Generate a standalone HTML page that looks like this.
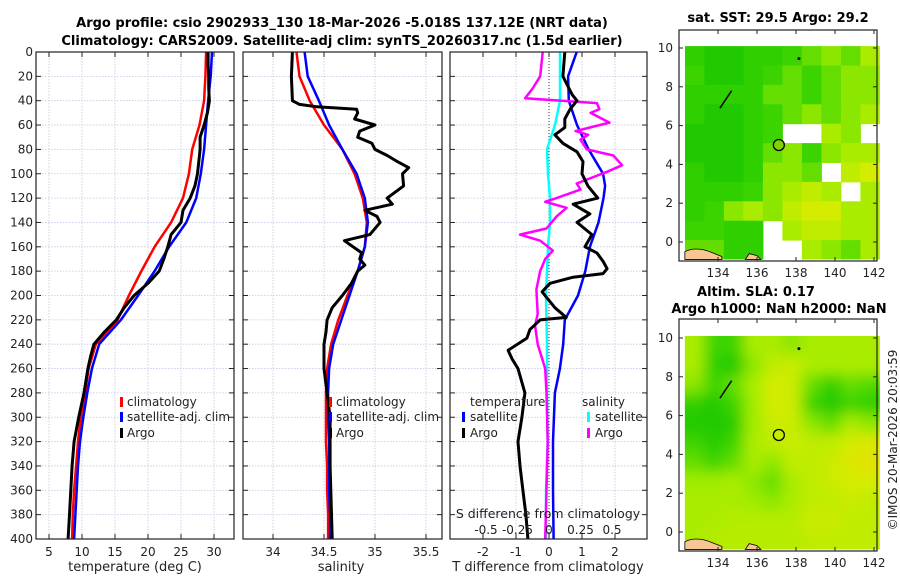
<!DOCTYPE html>
<html><head><meta charset="utf-8"><style>
html,body{margin:0;padding:0;background:#fff;}
svg{display:block;font-family:"DejaVu Sans","Liberation Sans",sans-serif;}
</style></head><body>
<svg id="fig" width="900" height="580" viewBox="0 0 900 580" xmlns="http://www.w3.org/2000/svg">
<text x="342" y="27" text-anchor="middle" font-size="13" font-weight="bold">Argo profile: csio 2902933_130 18-Mar-2026 -5.018S 137.12E (NRT data)</text>
<text x="342" y="45" text-anchor="middle" font-size="13" font-weight="bold">Climatology: CARS2009. Satellite-adj clim: synTS_20260317.nc (1.5d earlier)</text>
<text x="778" y="22" text-anchor="middle" font-size="13" font-weight="bold">sat. SST: 29.5 Argo: 29.2</text>
<text x="756" y="296" text-anchor="middle" font-size="13" font-weight="bold">Altim. SLA: 0.17</text>
<text x="779" y="313" text-anchor="middle" font-size="13" font-weight="bold">Argo h1000: NaN h2000: NaN</text>
<text transform="translate(897,440) rotate(-90)" text-anchor="middle" font-size="12" fill="#222">©IMOS 20-Mar-2026 20:03:59</text>
<g id="g"></g>
</svg>
<script>
// ---- data ----
const depthStd = [0,20,40,60,80,100,120,140,160,180,200,220,240,260,280,300,320,340,360,380,400];
const tempClim = [28.8,28.7,28.5,27.8,26.7,26.2,25.3,23.5,21.0,19.0,17.1,15.4,12.1,11.0,10.5,9.8,9.4,9.1,8.8,8.6,8.5];
const tempSat = [29.7,29.5,29.1,28.8,28.5,28.0,27.3,25.8,23.2,21.0,18.5,15.9,12.6,11.5,10.8,10.2,9.7,9.4,9.2,9.0,8.8];
const depthArgoT = [0,10,20,30,40,50,60,70,80,90,100,110,120,130,140,150,160,170,180,190,200,210,220,230,240,250,260,280,300,320,340,360,380,400];
const tempArgo = [29.1,29.1,29.2,29.2,29.3,29.0,28.5,27.9,27.9,27.7,27.5,27.1,26.4,25.3,25.0,23.5,23.0,22.4,21.7,20.0,17.9,16.4,15.2,13.4,11.8,11.3,10.9,10.3,9.5,8.8,8.5,8.3,8.1,7.9];
const salClim = [34.23,34.26,34.36,34.50,34.68,34.80,34.88,34.92,34.90,34.83,34.73,34.64,34.57,34.53,34.52,34.52,34.52,34.53,34.53,34.54,34.54];
const salSat = [34.31,34.34,34.45,34.55,34.68,34.82,34.90,34.93,34.90,34.83,34.75,34.67,34.59,34.55,34.54,34.54,34.55,34.55,34.55,34.56,34.56];
const depthArgoS = [0,20,40,43,45,47,50,55,60,65,70,75,80,85,90,95,100,110,120,125,130,135,140,150,155,165,170,175,180,190,200,210,220,230,240,260,280,300,340,400];
const salArgo = [34.19,34.18,34.19,34.26,34.43,34.82,34.83,34.80,35.00,34.85,34.83,34.97,35.00,35.12,35.22,35.33,35.27,35.28,35.12,35.17,34.90,35.02,35.05,34.95,34.70,34.87,34.85,34.90,34.83,34.77,34.68,34.58,34.53,34.52,34.50,34.50,34.53,34.56,34.56,34.58];
const depthSatT = [0,20,40,60,80,100,110,120,140,160,180,200,220,240,260,280,320,360,400];
const tDiffSat = [0.84,0.58,0.60,0.85,1.20,1.64,1.70,1.65,1.50,1.24,1.10,0.88,0.48,0.43,0.33,0.18,0.12,0.12,0.14];
const depthSatS = [0,40,60,80,100,120,140,160,200,240,280,320,360,400];
const sDiffSat = [0.087,0.087,0.048,-0.016,-0.008,0.008,0.008,-0.008,-0.024,-0.016,-0.016,-0.010,-0.024,-0.024];
const depthArgoSd = [0,20,30,38,42,47,50,58,65,68,72,80,85,93,98,108,113,120,123,128,135,145,150,155,163,170,180,195,215,225,240,260,280,320,360,400];
const sDiffArgo = [-0.05,-0.07,-0.13,-0.19,0.38,0.40,0.33,0.48,0.21,0.31,0.25,0.30,0.51,0.58,0.47,0.22,0.25,0.06,-0.03,0.14,0.06,-0.02,-0.23,-0.07,0.03,-0.03,-0.07,-0.10,-0.09,-0.11,-0.09,-0.03,-0.02,-0.01,-0.02,-0.03];
const depthArgoTd = [0,20,35,40,47,55,62,68,75,82,90,100,110,120,125,133,140,150,160,165,172,178,182,185,190,197,203,210,218,220,228,235,245,252,260,280,300,320,340,360,380,400];
const tDiffArgo = [0.48,0.42,0.70,0.85,0.64,0.48,0.48,0.18,0.42,0.85,1.03,1.00,1.18,1.48,0.73,1.24,0.85,1.30,1.09,1.45,1.64,1.76,1.64,0.73,0.03,-0.21,-0.03,0.18,0.52,-0.27,-0.58,-0.67,-1.24,-1.12,-0.94,-0.73,-0.82,-0.94,-0.88,-0.79,-0.70,-0.64];
const depthTicks = [0,20,40,60,80,100,120,140,160,180,200,220,240,260,280,300,320,340,360,380,400];
const tempTicks = [5,10,15,20,25,30];
const salTicks = [34,34.5,35,35.5];
const tdTicks = [-2,-1,0,1,2];
const sdTicks = [-0.5,-0.25,0,0.25,0.5];
const sdTickLabels = ["-0.5","-0.25","0","0.25","0.5"];
const latTicks = [0,2,4,6,8,10];
const lonTicks = [134,136,138,140,142];
// SST map cells (rows lat 10.1 -> -0.9, cols lon 132.3 -> 142.3), -1 = missing
const sstCells = [
[0.2,0.1,0.1,0.2,0.2,0.3,0.4,0.5,0.4,0.6],
[0.3,0.1,0.1,0.2,0.3,0.4,0.3,0.4,0.5,0.5],
[0.2,0.2,0.2,0.2,0.4,0.4,0.3,0.4,0.5,0.5],
[0.2,0.1,0.1,0.2,0.3,0.4,0.5,0.4,0.5,0.6],
[0.1,0.1,0.1,0.2,0.3,-1,-1,0.6,0.5,-1],
[0.1,0.1,0.1,0.2,0.4,0.5,0.3,0.5,0.6,0.6],
[0.2,0.1,0.1,0.2,0.5,0.5,0.4,-1,0.7,0.8],
[0.2,0.2,0.2,0.3,0.5,0.6,0.7,0.6,-1,0.6],
[0.2,0.3,0.5,0.6,0.5,0.7,0.8,0.8,0.6,0.6],
[0.3,0.3,0.2,0.2,-1,0.6,0.7,0.7,0.6,0.6],
[0.4,0.4,0.2,0.2,-1,-1,0.6,0.5,0.4,0.6]];
const slaCells = [
[0.6,0.3,0.3,0.6,0.6,0.5,0.6,0.6,0.6,0.6],
[0.6,0.2,0.1,0.5,0.7,0.75,0.6,0.6,0.6,0.6],
[0.5,0.3,0.4,0.6,0.8,0.75,0.4,0.2,0.4,0.35],
[0.2,0.1,0.3,0.55,0.8,0.75,0.3,0.1,0.3,0.2],
[0.1,0.1,0.15,0.55,0.75,0.75,0.5,0.4,0.6,0.5],
[0.3,0.15,0.3,0.6,0.7,0.75,0.7,0.7,0.8,0.85],
[0.4,0.3,0.4,0.6,0.5,0.7,0.7,0.75,0.85,0.9],
[0.55,0.55,0.6,0.5,0.4,0.6,0.7,0.75,0.8,0.8],
[0.6,0.6,0.6,0.55,0.5,0.6,0.7,0.7,0.75,0.7],
[0.6,0.6,0.65,0.65,0.65,0.65,0.75,0.75,0.7,0.7],
[0.6,0.65,0.65,0.65,0.65,0.65,0.7,0.7,0.7,0.7]];
const argoLon = [137.12];
const argoLat = [5.0];

// ---- helpers ----
const NS = "http://www.w3.org/2000/svg";
const root = document.getElementById("g");
function mk(tag, attrs, parent){ const e=document.createElementNS(NS,tag); for(const k in attrs) e.setAttribute(k,attrs[k]); (parent||root).appendChild(e); return e; }
const TOP=52, BOT=539;
const yD = d => TOP + d*(BOT-TOP)/400;
const xT = t => 49 + (t-5)*6.6;
const xS = s => 273 + (s-34)*102;
const xTd = v => 549 + v*33;
const xSd = v => 549 + v*126;

function panel(name){
  const g = mk("g",{});
  
  
  return g;
}
function grid(g, x0, x1, xs){
  depthTicks.forEach(d=>{
    const l=mk("line",{x1:x0,x2:x1,y1:yD(d),y2:yD(d),stroke:"#c3c8e0","stroke-width":0.8,"stroke-dasharray":"1.5,1.5"},g);
    
    
  });
  xs.forEach(x=>{
    const l=mk("line",{x1:x,x2:x,y1:TOP,y2:BOT,stroke:"#c3c8e0","stroke-width":0.8,"stroke-dasharray":"1.5,1.5"},g);
    
    
  });
}
function frame(g, x0, x1, xs){
  depthTicks.forEach(d=>{
    mk("line",{x1:x0,x2:x0+5,y1:yD(d),y2:yD(d),stroke:"#222"},g);
    mk("line",{x1:x1-5,x2:x1,y1:yD(d),y2:yD(d),stroke:"#222"},g);
  });
  xs.forEach(x=>{
    mk("line",{x1:x,x2:x,y1:BOT,y2:BOT-5,stroke:"#222"},g);
    mk("line",{x1:x,x2:x,y1:TOP,y2:TOP+5,stroke:"#222"},g);
  });
  const r=mk("rect",{x:x0,y:TOP,width:x1-x0,height:BOT-TOP,fill:"none",stroke:"#222","stroke-width":1.2},g);
  
  
}
function line(g, name, xs, ds, fx, color, w){
  const pts = xs.map((v,i)=>fx(v).toFixed(1)+","+yD(ds[i]).toFixed(1)).join(" ");
  const p=mk("polyline",{points:pts,fill:"none",stroke:color,"stroke-width":w,"stroke-linejoin":"round"},g);
  
  
}
function text(g, name, x, y, s, anchor, size){
  const t=mk("text",{x:x,y:y,"text-anchor":anchor||"start","font-size":size||12,fill:"#222"},g);
  t.textContent=s;
  
  
  return t;
}
function legendBar(g, name, x, y, color){
  const r=mk("rect",{x:x,y:y-5,width:3,height:10,fill:color},g);
  
  
}

depthTicks.forEach(d=>{ text(root,'depth-tick-label',33,yD(d)+4,String(d),"end",12); });

// ---- panel 1 ----
const p1 = panel('temperature-panel');
grid(p1,36,234,tempTicks.map(xT));
line(p1,'temp-climatology-line',tempClim,depthStd,xT,"#f00",2.5);
line(p1,'temp-satellite-line',tempSat,depthStd,xT,"#00f",2.5);
line(p1,'temp-argo-line',tempArgo,depthArgoT,xT,"#000",3);
frame(p1,36,234,tempTicks.map(xT));
tempTicks.forEach(t=>text(p1,'temp-tick-label',xT(t),556,String(t),"middle",12));
text(p1,'temp-axis-title',135,571,"temperature (deg C)","middle",13);
legendBar(p1,'legend-climatology-bar',120,402,"#f00"); text(p1,'legend-climatology',127,406,"climatology");
legendBar(p1,'legend-satellite-bar',120,417,"#00f"); text(p1,'legend-satellite',127,421,"satellite-adj. clim");
legendBar(p1,'legend-argo-bar',120,433,"#000"); text(p1,'legend-argo',127,437,"Argo");

// ---- panel 2 ----
const p2 = panel('salinity-panel');
grid(p2,243,442,salTicks.map(xS));
line(p2,'sal-climatology-line',salClim,depthStd,xS,"#f00",2.5);
line(p2,'sal-satellite-line',salSat,depthStd,xS,"#00f",2.5);
line(p2,'sal-argo-line',salArgo,depthArgoS,xS,"#000",3);
frame(p2,243,442,salTicks.map(xS));
salTicks.forEach(s=>text(p2,'sal-tick-label',xS(s),556,String(s),"middle",12));
text(p2,'sal-axis-title',341,571,"salinity","middle",13);
legendBar(p2,'legend-climatology-bar',329,402,"#f00"); text(p2,'legend-climatology',336,406,"climatology");
legendBar(p2,'legend-satellite-bar',329,417,"#00f"); text(p2,'legend-satellite',336,421,"satellite-adj. clim");
legendBar(p2,'legend-argo-bar',329,433,"#000"); text(p2,'legend-argo',336,437,"Argo");

// ---- panel 3 ----
const p3 = panel('difference-panel');
grid(p3,450,647,tdTicks.map(xTd));
const zl=mk("line",{x1:xTd(0),x2:xTd(0),y1:TOP,y2:BOT,stroke:"#333","stroke-width":1,"stroke-dasharray":"1,2"},p3);


line(p3,'sdiff-satellite-line',sDiffSat,depthSatS,xSd,"#0ff",2.5);
line(p3,'tdiff-satellite-line',tDiffSat,depthSatT,xTd,"#00f",2.5);
line(p3,'sdiff-argo-line',sDiffArgo,depthArgoSd,xSd,"#f0f",2.5);
line(p3,'tdiff-argo-line',tDiffArgo,depthArgoTd,xTd,"#000",3);
frame(p3,450,647,tdTicks.map(xTd));
tdTicks.forEach(v=>text(p3,'tdiff-tick-label',xTd(v),556,String(v),"middle",12));
text(p3,'tdiff-axis-title',548,571,"T difference from climatology","middle",13);
text(p3,'sdiff-axis-title',548,518,"S difference from climatology","middle",12.5);
sdTicks.forEach((v,i)=>text(p3,'sdiff-tick-label',xSd(v),534,sdTickLabels[i],"middle",12));
text(p3,'legend-temperature-heading',470,406,"temperature");
legendBar(p3,'legend-t-satellite-bar',462,417,"#00f"); text(p3,'legend-t-satellite',470,421,"satellite");
legendBar(p3,'legend-t-argo-bar',462,433,"#000"); text(p3,'legend-t-argo',470,437,"Argo");
text(p3,'legend-salinity-heading',582,406,"salinity");
legendBar(p3,'legend-s-satellite-bar',587,417,"#0ff"); text(p3,'legend-s-satellite',595,421,"satellite");
legendBar(p3,'legend-s-argo-bar',587,433,"#f0f"); text(p3,'legend-s-argo',595,437,"Argo");

// ---- maps ----
function lerp(a,b,t){return Math.round(a+(b-a)*t);}
function cmap(v){
  const stops=[[0,[20,196,0]],[0.3,[60,212,0]],[0.55,[160,236,0]],[0.8,[212,236,0]],[1,[240,214,0]]];
  for(let i=1;i<stops.length;i++){ if(v<=stops[i][0]){ const a=stops[i-1],b=stops[i]; const t=(v-a[0])/(b[0]-a[0]); return "rgb("+lerp(a[1][0],b[1][0],t)+","+lerp(a[1][1],b[1][1],t)+","+lerp(a[1][2],b[1][2],t)+")"; } }
  return "rgb(240,214,0)";
}
const mX = lon => 718 + (lon-134)*19.5;
function drawMap(name, cells, y0latZero, boxTop, boxBot, blur){
  const mY = lat => y0latZero - lat*19.4;
  const g = mk("g",{});
  
  
  const cp = mk("clipPath",{id:"clip-"+name},g);
  mk("rect",{x:mX(132.3),y:mY(10.1),width:mX(142.3)-mX(132.3),height:mY(-0.9)-mY(10.1)},cp);
  const outer = mk("g",{"clip-path":"url(#clip-"+name+")"},g);
  const cg = mk("g",{},outer);
  if(blur) cg.setAttribute("filter","url(#blur)");
  const nR=cells.length, nC=cells[0].length, pad=blur?20:0;
  cells.forEach((row,r)=>row.forEach((v,c)=>{
    if(v<0) return;
    const lon0=132.3+c, lat0=10.1-r;
    let x=mX(lon0), y=mY(lat0), w=mX(lon0+1)-mX(lon0)+0.5, h=mY(lat0-1)-mY(lat0)+0.5;
    if(c===0){x-=pad;w+=pad;} if(c===nC-1){w+=pad;}
    if(r===0){y-=pad;h+=pad;} if(r===nR-1){h+=pad;}
    const rc=mk("rect",{x:x.toFixed(1),y:y.toFixed(1),width:w.toFixed(1),height:h.toFixed(1),fill:cmap(v)},cg);
    
    
  }));
  const land=mk("path",{d:"M"+mX(132.3)+","+mY(-0.9)+" L"+mX(132.3)+","+mY(-0.5)+" Q"+mX(132.9)+","+mY(-0.2)+" "+mX(133.7)+","+mY(-0.55)+" L"+mX(134.2)+","+mY(-0.75)+" L"+mX(134.2)+","+mY(-0.9)+" Z M"+mX(135.4)+","+mY(-0.9)+" L"+mX(135.6)+","+mY(-0.6)+" L"+mX(136.0)+","+mY(-0.7)+" L"+mX(136.2)+","+mY(-0.9)+" Z",fill:"#f9c592",stroke:"#000","stroke-width":0.8},g);
  
  
  mk("path",{d:"M"+mX(134.1)+","+mY(6.9)+" L"+mX(134.7)+","+mY(7.8),stroke:"#000","stroke-width":1.5},g);
  mk("circle",{cx:mX(138.15),cy:mY(9.45),r:1.5,fill:"#000"},g);
  argoLon.forEach((lon,i)=>{
    const c=mk("circle",{cx:mX(lon),cy:mY(argoLat[i]),r:5.5,fill:blur?"none":"#7fd300",stroke:"#000","stroke-width":1.3},g);
    
    
  });
  const fr=mk("rect",{x:679,y:boxTop,width:198,height:boxBot-boxTop,fill:"none",stroke:"#222","stroke-width":1.2},g);
  
  
  latTicks.forEach(l=>{
    mk("line",{x1:679,x2:683,y1:mY(l),y2:mY(l),stroke:"#222"},g);
    mk("line",{x1:873,x2:877,y1:mY(l),y2:mY(l),stroke:"#222"},g);
    text(g,'lat-tick-label',673,mY(l)+4,String(l),"end",12);
  });
  lonTicks.forEach(l=>{
    mk("line",{x1:mX(l),x2:mX(l),y1:boxBot,y2:boxBot-4,stroke:"#222"},g);
    mk("line",{x1:mX(l),x2:mX(l),y1:boxTop,y2:boxTop+4,stroke:"#222"},g);
    text(g,'lon-tick-label',mX(l),boxBot+16,String(l),"middle",12);
  });
}
const defs=mk("defs",{});
const f=mk("filter",{id:"blur",x:"-10%",y:"-10%",width:"120%",height:"120%"},defs);
mk("feGaussianBlur",{stdDeviation:"7"},f);
drawMap('sst-map', sstCells, 242, 30, 261, false);
drawMap('sla-map', slaCells, 532, 319, 551, true);
</script>
</body></html>
